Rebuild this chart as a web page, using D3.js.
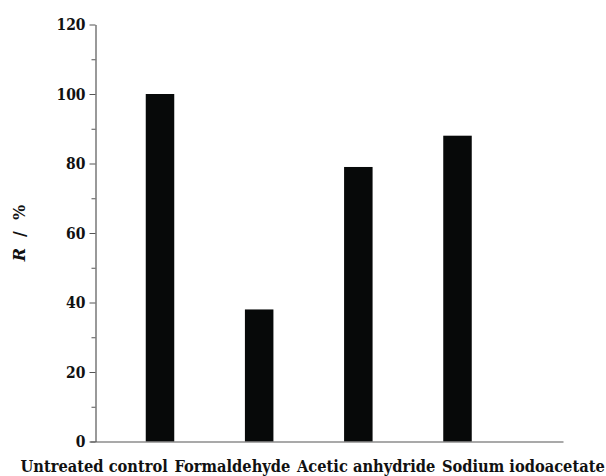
<!DOCTYPE html>
<html>
<head>
<meta charset="utf-8">
<script src="https://cdn.jsdelivr.net/npm/d3@7/dist/d3.min.js"></script>
<style>
  body { margin: 0; background: #fff; }
  svg { display: block; }
</style>
</head>
<body>
<svg id="chart" width="606" height="476"></svg>
<script>
// chart data
const categories = ["Untreated control", "Formaldehyde", "Acetic anhydride", "Sodium iodoacetate"];
const values = [100, 38, 79, 88];
const yTicks = [0, 20, 40, 60, 80, 100, 120];
const yMinorTicks = [10, 30, 50, 70, 90, 110];

const svg = d3.select("#chart");
const font = "'DejaVu Serif', serif";
const squeeze = 0.82; // text in the picture is narrower than the font

const y = d3.scaleLinear().domain([0, 120]).range([441.5, 24.5]);
const x = d3.scalePoint().domain(categories).range([160, 457.5]);
const barWidth = 28.5;

// Bars
svg.selectAll(".bar")
  .data(values)
  .enter()
  .append("rect")
  .attr("class", "bar")
  .attr("x", (d, i) => x(categories[i]) - barWidth / 2)
  .attr("y", (d) => y(d))
  .attr("width", barWidth)
  .attr("height", (d) => y(0) - y(d))
  .attr("fill", "#070909");

// Minor ticks on the y axis
svg.append("g")
  .attr("transform", "translate(95.5,0)")
  .call(d3.axisLeft(y).tickValues(yMinorTicks).tickSize(4).tickFormat(""))
  .call((g) => g.select(".domain").remove())
  .call((g) => g.selectAll("line").attr("stroke", "#555"));

// Major ticks + labels
const yAxis = svg.append("g")
  .attr("transform", "translate(95.5,0)")
  .call(d3.axisLeft(y).tickValues(yTicks).tickSize(6).tickSizeOuter(0).tickPadding(4));

yAxis.select(".domain").attr("stroke", "#555").attr("stroke-width", 1.2);
yAxis.selectAll("line").attr("stroke", "#555");
yAxis.selectAll("text")
  .attr("font-family", font)
  .attr("font-weight", "bold")
  .attr("font-size", 17)
  .attr("fill", "#111")
  .attr("x", -10 / squeeze)
  .attr("transform", `scale(${squeeze},1)`);

// X axis line
svg.append("g")
  .attr("transform", "translate(0,441.5)")
  .call(d3.axisBottom(d3.scaleLinear().range([90, 563])).ticks(0).tickSizeOuter(0))
  .call((g) => g.select(".domain").attr("stroke", "#555").attr("stroke-width", 1.2));

// Category labels, laid out one after another along the bottom
const labelGroup = svg.append("g");
const labels = labelGroup.selectAll("text")
  .data(categories)
  .enter()
  .append("text")
  .attr("font-family", font)
  .attr("font-weight", "bold")
  .attr("font-size", 16)
  .attr("fill", "#111")
  .text((d) => d);

const gap = 7;
let cursor = 0;
labels.each(function () {
  d3.select(this).attr("x", cursor);
  cursor += this.getComputedTextLength() + gap;
});
const total = cursor - gap;
const labelScale = (605 - 20.5) / total;
labelGroup.attr("transform", `translate(20.5,471.5) scale(${labelScale},1)`);

// Y axis title
const yTitle = svg.append("text")
  .attr("transform", "translate(25,233) rotate(-90)")
  .attr("text-anchor", "middle")
  .attr("font-family", font)
  .attr("font-weight", "bold")
  .attr("font-size", 16)
  .attr("fill", "#111");
yTitle.append("tspan").attr("font-style", "italic").text("R");
yTitle.append("tspan").text("\u00a0\u00a0/\u00a0\u00a0%");
</script>
</body>
</html>
